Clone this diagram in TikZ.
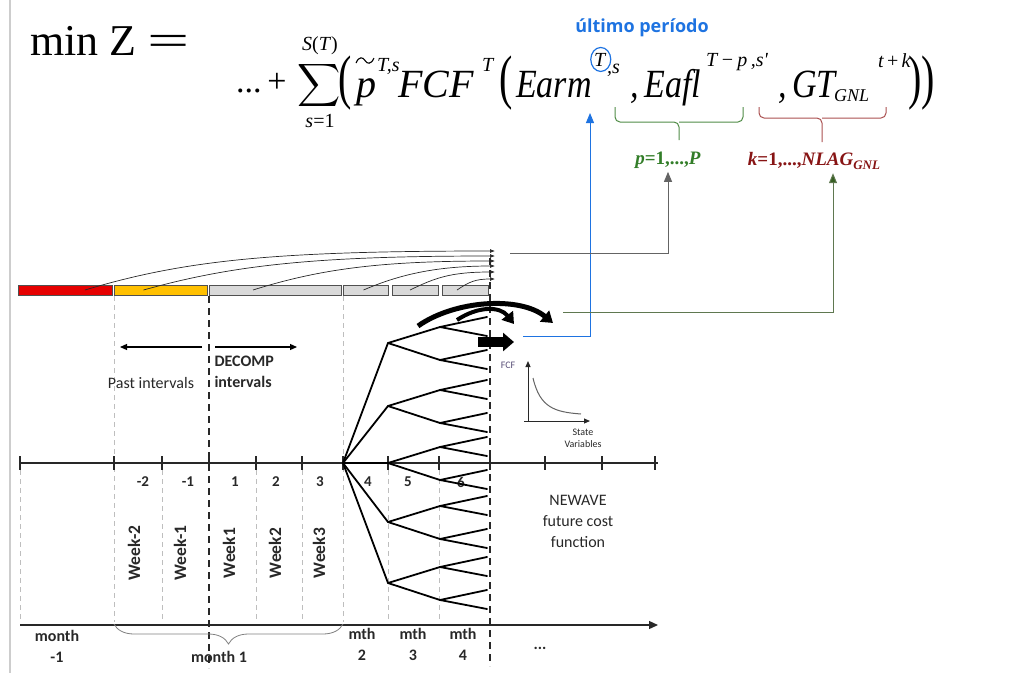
\documentclass[tikz,border=0pt]{standalone}
\usepackage{fontspec}
\setmainfont{Carlito}
\newfontfamily\tms{Liberation Serif}
\newfontfamily\osans{Open Sans}
\usepackage{graphicx}
\usetikzlibrary{arrows.meta,positioning,decorations.pathreplacing}

\definecolor{barred}{RGB}{230,0,0}
\definecolor{barorange}{RGB}{255,192,0}
\definecolor{bargray}{RGB}{217,217,217}
\definecolor{edgegray}{RGB}{80,80,80}
\definecolor{guide}{RGB}{190,190,190}
\definecolor{ink}{RGB}{40,40,40}
\definecolor{border}{RGB}{205,205,205}
\definecolor{lblblue}{RGB}{30,115,225}
\definecolor{lblgreen}{RGB}{50,125,40}
\definecolor{lblred}{RGB}{135,20,20}
\definecolor{bracegreen}{RGB}{80,140,70}
\definecolor{bracered}{RGB}{170,80,80}
\definecolor{lnkgray}{RGB}{100,100,100}
\definecolor{lnkgreen}{RGB}{95,120,80}
\definecolor{tipgreen}{RGB}{55,95,35}
\definecolor{fcfpurple}{RGB}{90,80,120}

\newcommand\bigparen[1]{\scalebox{1}[1.5]{\upshape #1}}

\begin{document}
\begin{tikzpicture}[x=1pt, y=-1pt,
    frm/.style={inner sep=0pt, anchor=base west, font=\tms\itshape\fontsize{40}{40}\selectfont},
    sup/.style={inner sep=0pt, anchor=base west, font=\tms\itshape\fontsize{20}{20}\selectfont},
    seg/.style={draw=edgegray, line width=0.8pt, minimum height=10pt, inner sep=0pt, outer sep=0pt},
    curv/.style={ink, line width=0.7pt, -{Latex[length=5pt,width=4pt]}},
    guideline/.style={guide, line width=0.8pt, dash pattern=on 5pt off 4pt},
    cutline/.style={ink, line width=1.4pt, dash pattern=on 7pt off 5pt},
    branch/.style={black, line width=1.8pt, line cap=round},
    num/.style={font=\bfseries\fontsize{15}{15}\selectfont, text=ink},
    wk/.style={font=\bfseries\fontsize{17.5}{17.5}\selectfont, text=ink, rotate=90},
    lbl/.style={font=\fontsize{16}{21}\selectfont, text=ink, align=center},
    blbl/.style={font=\bfseries\fontsize{16}{21}\selectfont, text=ink, align=center},
    thickarc/.style={black, -{Triangle[length=11pt,width=14pt]}}
]
    \useasboundingbox (0,0) rectangle (1013,673);
    \draw[border, line width=1.5pt] (10,0) -- (10,673);

    % ---------- formula ----------
    \node[inner sep=0pt, anchor=base west, font=\tms\fontsize{44}{44}\selectfont] (minz) at (30,55) {min Z};
    \node[inner sep=0pt, anchor=base west, font=\tms\fontsize{44}{44}\selectfont] (eq) at (147,55) {\scalebox{1.7}[1]{=}};
    \node[inner sep=0pt, anchor=base west, font=\tms\fontsize{34}{34}\selectfont] (dots) at (236,92) {...\,+};
    \node[inner sep=0pt] (sum) at (319,85) {\scalebox{3}{$\displaystyle\sum$}};
    \node[inner sep=0pt, font=\tms\fontsize{20}{20}\selectfont] (sumtop) at (320,46) {\textit{S}(\textit{T})};
    \node[inner sep=0pt, font=\tms\fontsize{20}{20}\selectfont] (sumbot) at (320,121) {\textit{s}=1};
    \node[frm] (po1) at (338,97) {\bigparen{(}};
    \node[frm] (ptil) at (356,97) {p};
    \draw[line width=1.1pt] (356,63) .. controls (359,56) and (363,57) .. (365,60.5) .. controls (367,64) and (371,65) .. (374,58);
    \node[sup] (supts) at (377,71) {T,s};
    \node[frm] (fcf) at (398,97) {FCF};
    \node[sup] (supt) at (482,71) {T};
    \node[frm] (po2) at (499,97) {\bigparen{(}};
    \node[frm] (earm) at (516,97) {\scalebox{0.85}[1]{Earm}};
    \node[sup] (supT) at (594,66) {T};
    \node[sup] (sups) at (607,73) {,s};
    \node[frm] (eafl) at (630,97) {\scalebox{0.85}[1]{,\,Eafl}};
    \node[sup] (suptp) at (706,66) {T\,−\,p\,,s'};
    \node[frm] (gt) at (778,97) {\scalebox{0.85}[1]{,\,GT}};
    \node[inner sep=0pt, anchor=base west, font=\tms\itshape\fontsize{18}{18}\selectfont] (sbgnl) at (834,101) {GNL};
    \node[sup] (suptk) at (878,67) {t\,\upshape+\,\itshape k};
    \node[frm] (pc) at (908,97) {\bigparen{))}};

    \node[font=\osans\bfseries\fontsize{18}{18}\selectfont, text=lblblue] (ultimo) at (642,28) {último período};
    \draw[lblblue, line width=1.2pt] ([xshift=1pt]supT.center) ellipse [x radius=10pt, y radius=12pt];

    % braces under the formula
    \draw[bracegreen, line width=1pt, rounded corners=5pt] (615,107) |- (679,122) -- (679,140);
    \draw[bracegreen, line width=1pt, rounded corners=5pt] (743,107) |- (679,122);
    \draw[bracered, line width=1pt, rounded corners=5pt] (759,107) |- (822,118) -- (822,142);
    \draw[bracered, line width=1pt, rounded corners=5pt] (886,107) |- (822,118);

    \node[font=\tms\bfseries\itshape\fontsize{19}{19}\selectfont, text=lblgreen] (plbl) at (668,160) {p\upshape=1,...,\itshape P};
    \node[font=\tms\bfseries\itshape\fontsize{19}{19}\selectfont, text=lblred] (klbl) at (814,161) {k\upshape=1,...,\itshape NLAG\raisebox{-4pt}{\fontsize{13}{13}\selectfont GNL}};

    % ---------- interval bars ----------
    \node[seg, fill=barred, minimum width=94pt] (bred) at (65,290) {};
    \node[seg, fill=barorange, minimum width=93pt] (borg) at (160.5,290) {};
    \node[seg, fill=bargray, minimum width=132pt] (bg1) at (275,290) {};
    \node[seg, fill=bargray, minimum width=45pt] (bg2) at (365.5,290) {};
    \node[seg, fill=bargray, minimum width=46pt] (bg3) at (415,290) {};
    \node[seg, fill=bargray, minimum width=46pt] (bg4) at (465,290) {};

    \foreach \i/\y in {1/251,2/256,3/261,4/266,5/272,6/279}
        \coordinate (e\i) at (495,\y);
    \foreach \b/\dx/\e/\c/\h/\d in {bred/20/e1/100/30/220, borg/-17/e2/90/25/180, bg1/-22/e3/70/22/110, bg2/-2/e4/35/15/60, bg3/-5/e5/25/12/45, bg4/-8/e6/12/8/20}
        \draw[curv] ([xshift=\dx pt]\b.center) .. controls +(\c,-\h) and +(-\d,0) .. (\e);

    % ---------- guide lines ----------
    \foreach \x in {114,343}
        \draw[guideline] (\x,296) -- (\x,622);
    \foreach \x in {20,162,256,302,388,439}
        \draw[guideline] (\x,470) -- (\x,622);
    \draw[cutline] (209,296) -- (209,668);
    \draw[cutline] (490,258) -- (490,666);

    % ---------- axes ----------
    \draw[ink, line width=1.5pt] (20,463) -- (658,463);
    \foreach \x in {20,114,162,209,256,302,343,388,439,490,545,602,655}
        \draw[ink, line width=1.2pt] (\x,456) -- (\x,470);
    \draw[ink, line width=1.3pt, -{Triangle[length=9pt,width=8pt]}] (20,625) -- (658,625);
    \draw[gray, line width=0.8pt, decorate, decoration={brace, mirror, amplitude=20pt}] (114,624) -- (343,624);

    % ---------- labels ----------
    \coordinate (pastend) at (120,347);
    \coordinate (pastbeg) at (202,347);
    \coordinate (decbeg) at (215,347);
    \coordinate (decend) at (297,347);
    \draw[black, line width=1.2pt, -{Triangle[length=7pt,width=6pt]}] (pastbeg) -- (pastend);
    \draw[black, line width=1.2pt, -{Triangle[length=7pt,width=6pt]}] (decbeg) -- (decend);
    \node[lbl] (past) at (151,383) {Past intervals};
    \node[blbl, anchor=west, align=left] (decomp) at (211,372) {DECOMP\\intervals};

    \foreach \x/\t in {143/-2,188/-1,235/1,276/2,320/3,368/4,408/5,461/6}
        \node[num] (n\x) at (\x,482) {\t};
    \foreach \x/\t in {134/Week-2,180/Week-1,229/Week1,275/Week2,319/Week3}
        \node[wk] (w\x) at (\x,553) {\t};

    \node[blbl] (mprev) at (57,646) {month\\-1};
    \node[blbl] (mone) at (219,657) {month 1};
    \node[blbl] (mtwo) at (362,644) {mth\\2};
    \node[blbl] (mthree) at (413,644) {mth\\3};
    \node[blbl] (mfour) at (463,644) {mth\\4};
    \node[blbl] (mdots) at (540,648) {...};
    \node[lbl] (newave) at (578,521) {NEWAVE\\future cost\\function};

    % ---------- scenario tree ----------
    \coordinate (root) at (343,463);
    \foreach \a [count=\i] in {343,406,463,522,583} {
        \coordinate (l\i) at (388,\a);
        \draw[branch] (root) -- (l\i);
        \foreach \b [count=\j] in {-16,17} {
            \coordinate (m\i\j) at (440,\a+\b);
            \draw[branch] (l\i) -- (m\i\j);
            \foreach \c in {-10,9}
                \draw[branch] (m\i\j) -- ++(47,\c);
        }
    }

    % thick arrows
    \draw[thickarc, line width=5pt] (418,326) .. controls (455,300) and (520,296) .. (553,323);
    \draw[thickarc, line width=4pt] (457,320) .. controls (478,306) and (500,306) .. (514,324);
    \draw[black, line width=10pt, -{Triangle[length=11pt,width=18pt]}] (478,342) -- (514,342);

    % FCF sketch
    \node[font=\fontsize{10}{10}\selectfont, text=fcfpurple] (fcflbl) at (508,365) {FCF};
    \coordinate (org) at (528,421);
    \draw[ink, line width=1pt, -{Triangle[length=6pt,width=5pt]}] (org) -- ++(0,-60);
    \draw[ink, line width=1pt, -{Triangle[length=6pt,width=5pt]}] ([xshift=-4pt]org) -- ++(66,0);
    \draw[lnkgray, line width=1pt] (533,378) .. controls (540,408) and (555,412) .. (581,414);
    \node[font=\fontsize{10}{12}\selectfont, text=ink, align=center] (svlbl) at (583,438) {State\\Variables};

    % ---------- links to the formula ----------
    \coordinate (bstart) at (523,336);
    \coordinate (btip) at (590,113);
    \coordinate (gstart) at (510,253);
    \coordinate (kstart) at (563,312);
    \draw[lblblue, line width=1pt, -{Triangle[length=10pt,width=8pt]}] (bstart) -| (btip);
    \draw[lnkgray, line width=1pt, -{Triangle[length=10pt,width=8pt]}] (gstart) -| (plbl.south);
    \draw[lnkgreen, line width=1pt, -{Triangle[length=10pt,width=8pt,fill=tipgreen]}] (kstart) -| ([xshift=19pt]klbl.south);
\end{tikzpicture}
\end{document}
